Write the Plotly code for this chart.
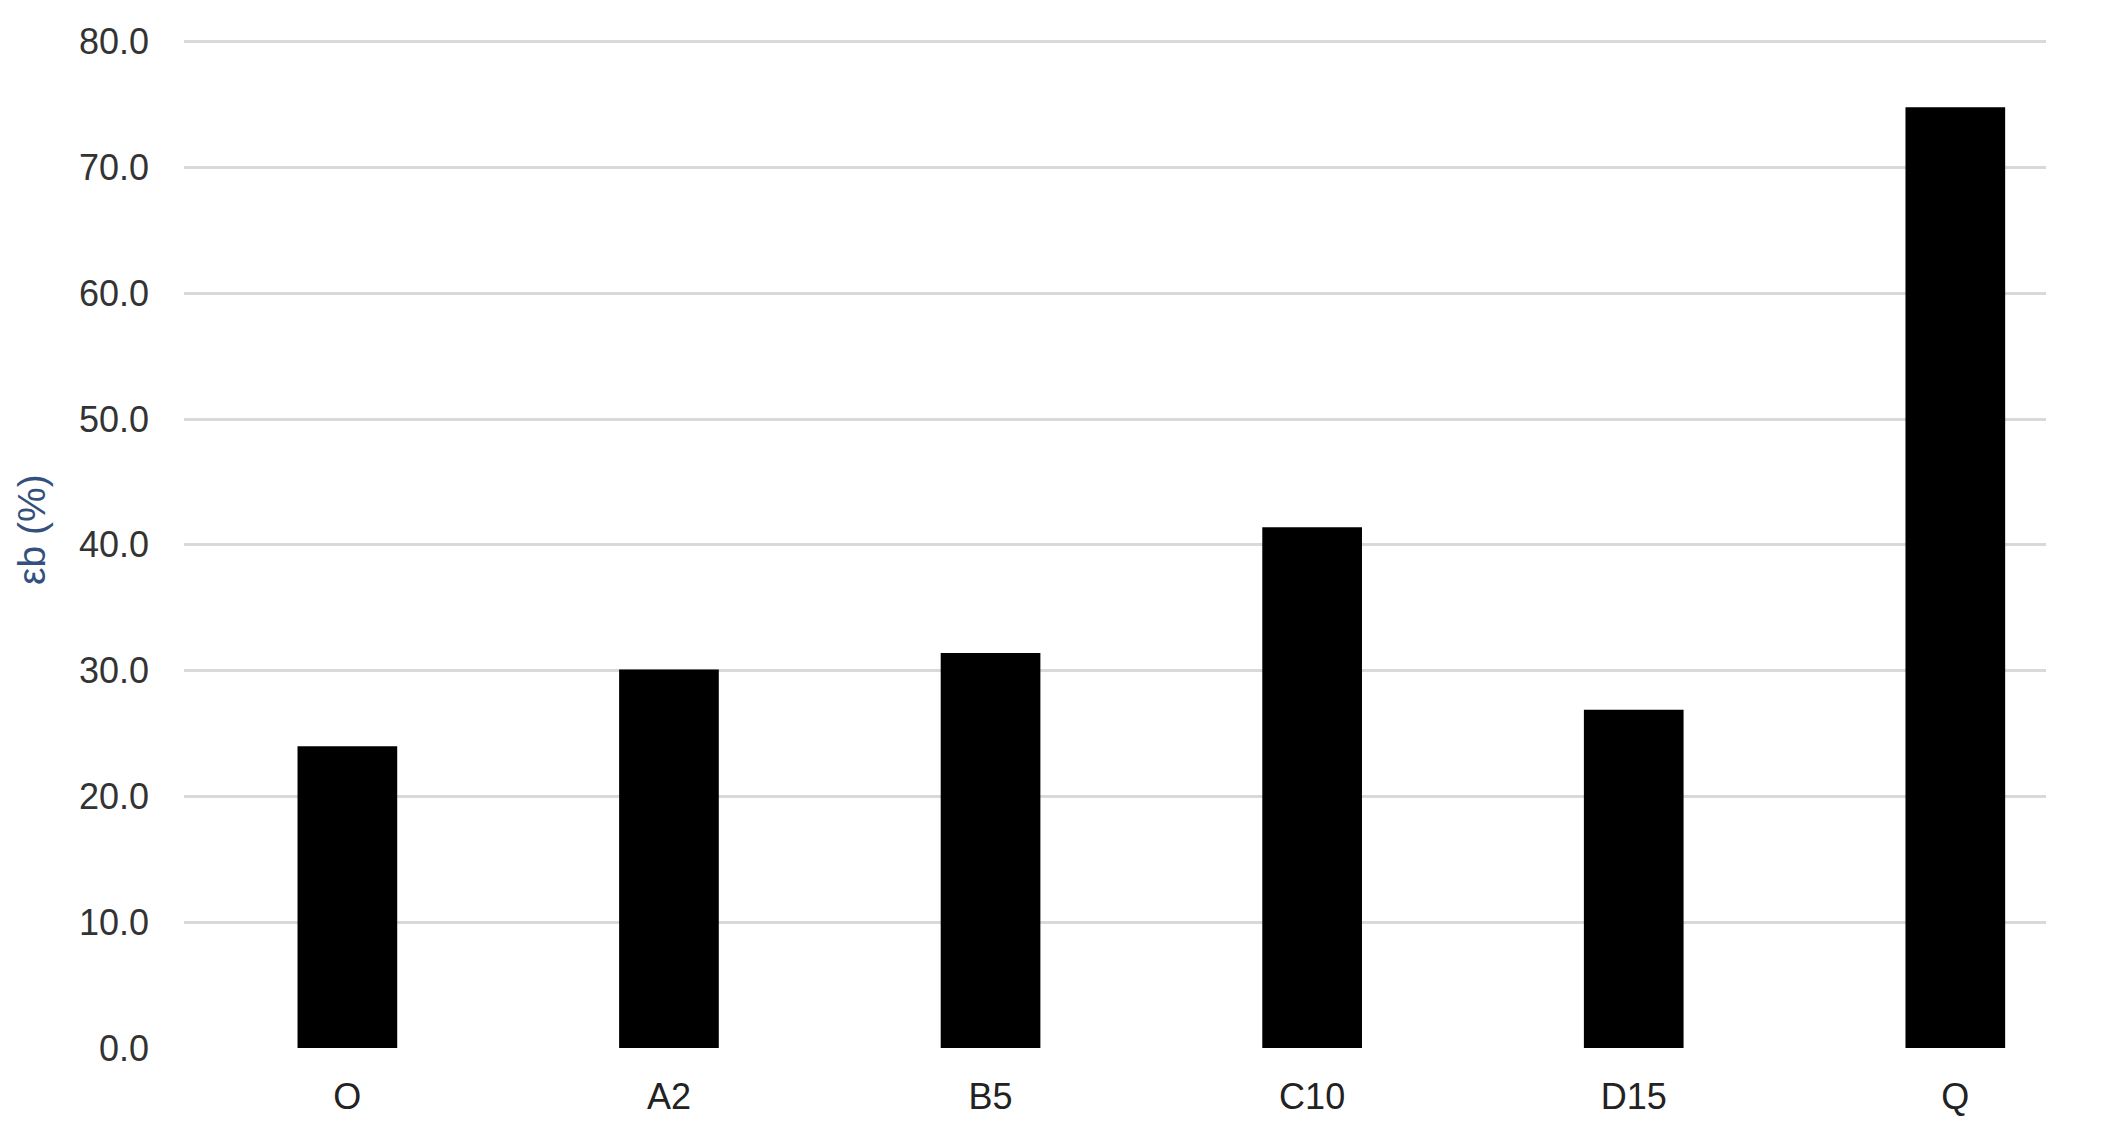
import plotly.graph_objects as go

categorias = ["O", "A2", "B5", "C10", "D15", "Q"]
eps_b = [24.0, 30.1, 31.4, 41.4, 26.9, 74.8]
y_ticks = [0, 10, 20, 30, 40, 50, 60, 70, 80]

fig = go.Figure()
fig.add_trace(
    go.Bar(
        x=categorias,
        y=eps_b,
        marker=dict(color="#000000", line=dict(width=0)),
        width=0.31,
        showlegend=False,
    )
)

fig.update_layout(
    width=2114,
    height=1132,
    paper_bgcolor="white",
    plot_bgcolor="white",
    margin=dict(l=176, r=76, t=30, b=92),
    font=dict(family="Liberation Sans, Arial", size=36, color="#333333"),
    xaxis=dict(
        type="category",
        range=[-0.508, 5.282],
        showgrid=False,
        showline=False,
        zeroline=False,
        ticks="",
        ticklabelstandoff=24,
        tickfont=dict(size=36, color="#222222"),
    ),
    yaxis=dict(
        range=[0, 80.3],
        tickvals=y_ticks,
        tickformat=".1f",
        showgrid=True,
        gridcolor="#d9d9d9",
        gridwidth=3,
        zeroline=False,
        showline=False,
        ticks="",
        ticklabelstandoff=34,
        tickfont=dict(size=36, color="#333333"),
    ),
    annotations=[
        dict(
            text="εb (%)",
            xref="paper",
            yref="paper",
            x=-0.0816,
            y=0.513,
            xanchor="center",
            yanchor="middle",
            textangle=-90,
            showarrow=False,
            font=dict(size=39, color="#34507e"),
        )
    ],
)

fig.write_html("out.html")
